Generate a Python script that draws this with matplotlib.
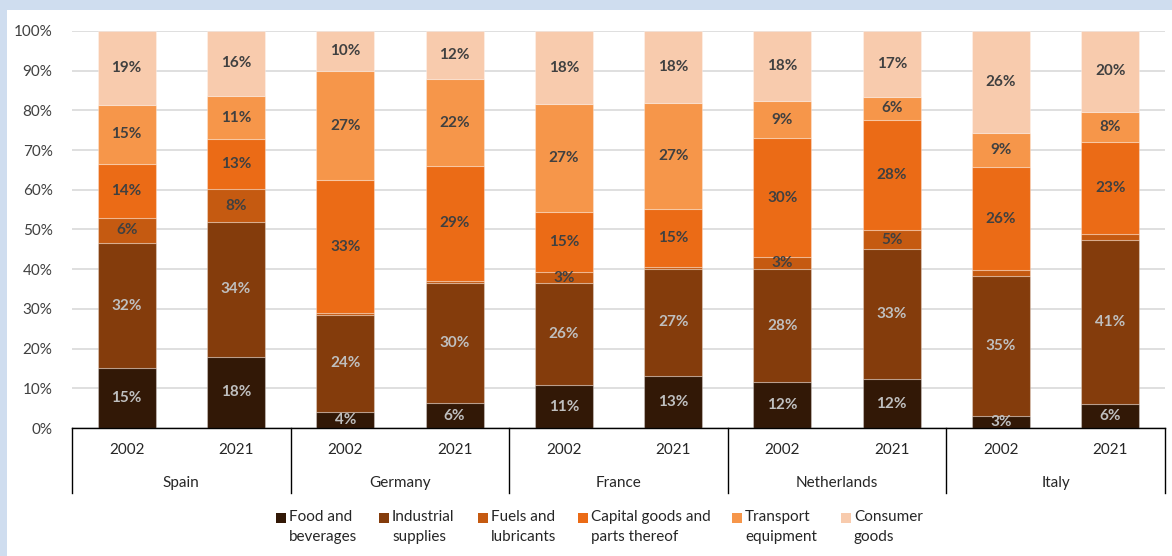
import matplotlib
matplotlib.use("Agg")
import matplotlib.pyplot as plt
from matplotlib.patches import Rectangle
from matplotlib.ticker import FuncFormatter, MultipleLocator
import numpy as np

plt.rcParams['font.family'] = ['Lato', 'DejaVu Sans']

countries = ["Spain", "Germany", "France", "Netherlands", "Italy"]
years = ["2002", "2021"]

# shares (%) per bar: Spain 2002, Spain 2021, Germany 2002, ... Italy 2021
food_and_beverages = [15.0, 18.0, 4.1, 6.2, 10.8, 13.2, 11.6, 12.3, 3.0, 6.0]
industrial_supplies = [31.7, 33.8, 24.4, 30.3, 25.7, 26.8, 28.4, 32.7, 35.4, 41.3]
fuels_and_lubricants = [6.3, 8.3, 0.5, 0.5, 2.8, 0.6, 3.0, 4.8, 1.3, 1.5]
capital_goods = [13.6, 12.6, 33.4, 29.1, 15.0, 14.6, 30.1, 27.9, 26.1, 23.3]
transport_equipment = [14.8, 11.0, 27.4, 21.7, 27.3, 26.6, 9.2, 5.6, 8.6, 7.6]
consumer_goods = [18.6, 16.3, 10.2, 12.2, 18.4, 18.2, 17.7, 16.7, 25.6, 20.3]

series_names = ["Food and\nbeverages", "Industrial\nsupplies", "Fuels and\nlubricants",
                "Capital goods and\nparts thereof", "Transport\nequipment", "Consumer\ngoods"]
series_values = [food_and_beverages, industrial_supplies, fuels_and_lubricants,
                 capital_goods, transport_equipment, consumer_goods]
series_colors = ["#321806", "#843C0C", "#C55A11", "#EB6B16", "#F6964A", "#F8CBAD"]
label_colors = ["#BFBFBF", "#BFBFBF", "#404040", "#404040", "#404040", "#404040"]

W, H = 1172, 556
FS = 11
fig = plt.figure(figsize=(W / 100, H / 100), dpi=100, facecolor="#CFDDEF")
fig.patches.append(Rectangle((7 / W, 0), 1 - 7 / W, (H - 10) / H, transform=fig.transFigure,
                             facecolor="white", edgecolor="none", zorder=-10))

ax_left, ax_right, ax_top, ax_bottom = 72, 1165, 31, 428
ax = fig.add_axes([ax_left / W, (H - ax_bottom) / H, (ax_right - ax_left) / W,
                   (ax_bottom - ax_top) / H])
ax.set_facecolor("none")

n = len(food_and_beverages)
x = np.arange(n) + 0.5
bottom = np.zeros(n)
for vals, col, lcol in zip(series_values, series_colors, label_colors):
    v = np.array(vals) / 100.0
    ax.bar(x, v, width=0.53, bottom=bottom, color=col,
           edgecolor=(1, 1, 1, 0.3), linewidth=0.8, zorder=3)
    for xi, b, vi in zip(x, bottom, v):
        if vi >= 0.02:
            ax.text(xi, b + vi / 2, f"{vi * 100:.0f}%", ha="center", va="center",
                    fontsize=FS, fontweight="bold", color=lcol, zorder=4)
    bottom += v

ax.set_xlim(0, n)
ax.set_ylim(0, 1)
ax.yaxis.set_major_locator(MultipleLocator(0.1))
ax.yaxis.set_major_formatter(FuncFormatter(lambda v, p: f"{v * 100:.0f}%"))
ax.tick_params(axis="y", length=0, labelsize=FS, labelcolor="#404040", pad=14)
ax.set_xticks([])
ax.grid(axis="y", color="#D9D9D9", linewidth=1.2, zorder=0)
for s in ["top", "right", "left"]:
    ax.spines[s].set_visible(False)
ax.spines["bottom"].set_color("black")
ax.spines["bottom"].set_linewidth(1.0)
ax.spines["bottom"].set_zorder(5)

# two-level category axis
span = ax_bottom - ax_top
sep_bottom = -(493 - ax_bottom) / span
year_y = -(450 - ax_bottom) / span
country_y = -(483 - ax_bottom) / span
for k in range(len(countries) + 1):
    ax.plot([2 * k, 2 * k], [0, sep_bottom], color="black", linewidth=1.0,
            clip_on=False, zorder=5)
for i, c in enumerate(countries):
    for j, yr in enumerate(years):
        ax.text(2 * i + j + 0.5, year_y, yr, ha="center", va="center",
                fontsize=FS, color="#262626", clip_on=False)
    ax.text(2 * i + 1, country_y, c, ha="center", va="center",
            fontsize=FS, color="#262626", clip_on=False)

# legend: square swatch next to the first line of each two-line label
legend_x = [276, 379, 478, 578, 732, 841]
legend_top = 518
sw = 10
for lx, name, col in zip(legend_x, series_names, series_colors):
    fig.patches.append(Rectangle((lx / W, (H - legend_top - sw / 2) / H), sw / W, sw / H,
                                 transform=fig.transFigure, facecolor=col,
                                 edgecolor="none"))
    fig.text((lx + sw + 3) / W, (H - legend_top + 8) / H, name, ha="left", va="top",
             fontsize=FS, color="#262626", linespacing=1.55)

fig.savefig("out.png", dpi=100, facecolor=fig.get_facecolor())
